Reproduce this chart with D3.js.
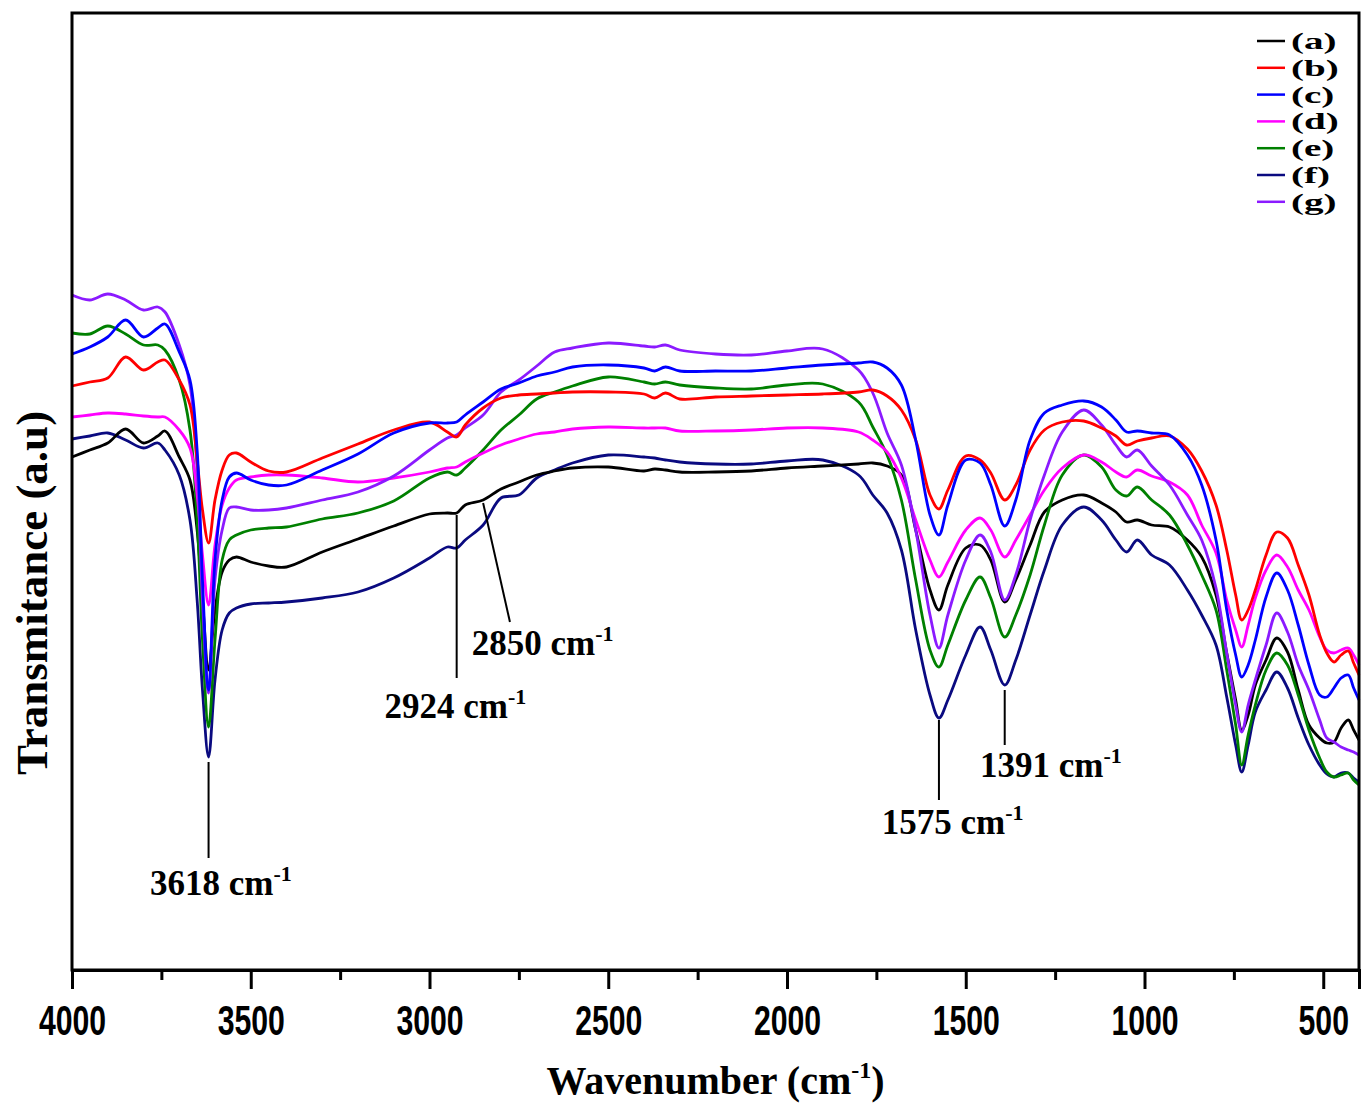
<!DOCTYPE html>
<html>
<head>
<meta charset="utf-8">
<script src="https://cdn.jsdelivr.net/npm/d3@7"></script>
<style>
  body { margin: 0; background: #fff; }
</style>
</head>
<body>
<div id="chart"></div>
<script>
// FTIR spectra, values (arbitrary transmittance units)
const wavenumbers = [4000, 3950, 3900, 3850, 3800, 3760, 3740, 3700, 3670, 3650,
  3635, 3618, 3600, 3580, 3560, 3540, 3500, 3450, 3400, 3300,
  3200, 3100, 3000, 2950, 2924, 2900, 2850, 2800, 2750, 2700,
  2650, 2600, 2500, 2400, 2370, 2340, 2300, 2200, 2100, 2000,
  1900, 1800, 1760, 1720, 1680, 1640, 1600, 1575, 1550, 1500,
  1460, 1430, 1391, 1360, 1320, 1280, 1230, 1170, 1120, 1080,
  1050, 1020, 980, 930, 880, 840, 800, 770, 745, 728,
  710, 690, 660, 630, 600, 570, 540, 510, 490, 470,
  450, 430, 415, 400];

const seriesA = [51.3, 52.0, 52.7, 54.1, 52.7, 53.4, 53.9, 51.3, 49.0, 44.0,
  37.0, 30.0, 36.0, 39.8, 41.0, 41.3, 40.8, 40.4, 40.3, 41.8,
  43.1, 44.4, 45.6, 45.7, 45.7, 46.5, 47.0, 48.1, 48.8, 49.5,
  49.9, 50.2, 50.3, 49.9, 50.1, 50.0, 49.8, 49.8, 49.9, 50.2,
  50.4, 50.6, 50.7, 50.4, 49.5, 44.0, 38.0, 36.0, 38.5, 42.2,
  42.5, 41.0, 36.8, 39.0, 42.5, 45.8, 47.0, 47.5, 46.7, 45.8,
  44.8, 45.0, 44.5, 44.3, 43.0, 41.3, 37.5, 31.7, 27.0, 24.0,
  25.5, 28.5, 31.0, 33.2, 31.8, 28.0, 24.5, 23.2, 22.7, 22.8,
  24.2, 25.0, 24.0, 23.0];

const seriesB = [58.4, 58.8, 59.2, 61.3, 60.0, 60.8, 61.0, 59.0, 56.5, 51.0,
  46.0, 42.7, 47.0, 50.0, 51.5, 51.7, 50.8, 49.9, 49.8, 51.2,
  52.6, 54.0, 54.8, 53.8, 53.3, 54.5, 56.2, 57.2, 57.5, 57.6,
  57.7, 57.8, 57.8, 57.6, 57.2, 57.7, 57.1, 57.3, 57.4, 57.5,
  57.6, 57.8, 58.0, 57.4, 56.0, 53.0, 47.5, 46.1, 48.0, 51.4,
  51.0, 49.7, 47.0, 48.5, 52.0, 54.0, 54.8, 54.9, 54.2, 53.4,
  52.5, 52.9, 53.2, 53.4, 52.1, 49.9, 46.5, 42.0, 37.5, 35.0,
  36.0, 38.0, 41.5, 43.8, 43.2, 40.5, 37.5, 33.5, 31.7, 30.8,
  31.5, 31.9, 30.7, 29.5];

const seriesC = [61.6, 62.3, 63.3, 65.0, 63.3, 64.2, 64.6, 61.8, 59.0, 52.0,
  39.0, 28.0, 41.0, 47.0, 49.3, 49.7, 49.0, 48.5, 48.5, 50.0,
  51.6, 53.7, 54.7, 54.7, 54.8, 55.5, 56.8, 58.1, 58.7, 59.4,
  59.8, 60.3, 60.5, 60.2, 59.9, 60.3, 59.9, 59.9, 59.9, 60.2,
  60.5, 60.7, 60.8, 60.2, 58.5, 53.0, 45.5, 43.5, 46.5, 51.0,
  50.7, 48.5, 44.4, 47.0, 53.0, 55.7, 56.5, 56.9, 56.3, 55.0,
  53.8, 53.9, 53.7, 53.5, 51.5, 48.5, 43.0, 36.0, 31.5, 29.3,
  30.5, 33.0, 37.3, 39.7, 38.0, 34.5, 30.5, 27.5, 27.3, 28.2,
  29.2, 29.5, 28.2, 27.0];

const seriesD = [55.3, 55.5, 55.7, 55.6, 55.4, 55.3, 55.3, 54.0, 52.2, 47.5,
  41.5, 36.5, 42.5, 46.5, 48.2, 49.0, 49.3, 49.5, 49.5, 49.2,
  48.8, 49.2, 49.8, 50.2, 50.3, 50.8, 51.7, 52.5, 53.1, 53.6,
  53.8, 54.1, 54.3, 54.2, 54.2, 54.2, 53.9, 53.9, 54.0, 54.2,
  54.2, 53.8, 53.0, 51.8, 49.2, 45.0, 41.0, 39.3, 40.8, 44.0,
  45.2, 44.0, 41.3, 43.0, 45.5, 48.0, 50.2, 51.5, 50.8, 49.8,
  49.3, 50.0, 49.4, 48.8, 47.5, 44.5, 41.7, 37.0, 34.0, 32.3,
  34.5, 37.2, 40.0, 41.5, 40.3, 38.0, 36.0, 33.3, 32.0, 31.7,
  32.0, 32.2, 31.5, 30.5];

const seriesE = [63.7, 63.6, 64.4, 63.6, 62.5, 62.5, 62.0, 59.0, 54.0, 45.0,
  33.0, 24.3, 33.0, 41.0, 43.0, 43.5, 44.0, 44.2, 44.3, 45.1,
  45.7, 46.9, 49.2, 49.8, 49.5, 50.2, 52.0, 54.0, 55.5, 57.1,
  57.8, 58.4, 59.3, 58.8, 58.6, 58.8, 58.5, 58.2, 58.1, 58.5,
  58.6, 56.8, 54.3, 51.5, 47.0, 39.0, 32.0, 30.3, 32.5, 37.0,
  39.3, 37.2, 33.3, 35.5, 39.5, 44.5, 49.5, 51.5, 50.3, 48.0,
  47.4, 48.3, 47.0, 45.5, 42.5, 39.5, 36.0, 30.0, 24.5, 20.5,
  23.5, 26.5, 30.0, 31.7, 30.5, 27.5, 24.0, 21.2, 19.8, 19.3,
  19.5, 19.7, 19.0, 18.5];

const seriesF = [53.1, 53.4, 53.7, 53.0, 52.2, 52.7, 52.0, 49.5, 45.0, 37.0,
  28.0, 21.3, 29.0, 34.0, 35.7, 36.2, 36.6, 36.7, 36.8, 37.2,
  37.8, 39.2, 41.2, 42.3, 42.2, 43.0, 44.5, 47.2, 47.5, 49.2,
  50.0, 50.7, 51.5, 51.3, 51.2, 51.0, 50.8, 50.6, 50.6, 50.9,
  51.0, 49.5, 47.5, 45.7, 42.0, 34.0, 27.5, 25.2, 27.0, 31.5,
  34.3, 32.0, 28.5, 31.0, 35.5, 40.0, 44.5, 46.3, 45.0, 43.0,
  41.8, 43.0, 41.5, 40.5, 38.0, 35.5, 32.5, 27.3, 22.5, 19.8,
  22.5, 25.8, 28.0, 29.8, 28.2, 25.2, 22.5, 20.5, 19.6, 19.3,
  19.7, 19.7, 19.2, 18.8];

const seriesG = [67.5, 67.0, 67.6, 67.0, 66.0, 66.3, 65.8, 62.5, 58.5, 50.0,
  37.0, 27.7, 39.0, 44.0, 46.2, 46.3, 46.0, 46.0, 46.2, 47.0,
  47.8, 49.4, 52.0, 53.2, 53.5, 54.2, 55.5, 57.8, 59.0, 60.4,
  61.8, 62.2, 62.7, 62.4, 62.3, 62.5, 62.0, 61.6, 61.5, 61.9,
  62.1, 60.0, 57.7, 53.7, 50.5, 44.0, 35.5, 32.2, 35.5, 41.0,
  43.5, 41.8, 37.0, 39.5, 45.0, 49.5, 53.8, 56.0, 54.5, 52.5,
  51.3, 52.0, 50.4, 48.5, 45.5, 43.0, 38.2, 31.7, 26.5, 23.8,
  26.5, 29.0, 32.5, 35.7, 33.8, 30.5, 28.0, 25.0, 23.2, 22.8,
  22.3, 22.0, 21.8, 21.5];

const seriesNames = ["(a)", "(b)", "(c)", "(d)", "(e)", "(f)", "(g)"];
const seriesColors = ["#000000", "#ff0000", "#0000ff", "#ff00ff", "#008000", "#0a0a80", "#8b1aff"];
const xTicks = [4000, 3500, 3000, 2500, 2000, 1500, 1000, 500];
const xMinorTicks = [3750, 3250, 2750, 2250, 1750, 1250, 750];

// marked bands: wavenumber, label
const peakWn = [3618, 2924, 2850, 1575, 1391];
const peakLabel = ["3618", "2924", "2850", "1575", "1391"];

const W = 1362, H = 1104;
const margin = { top: 13, right: 3, bottom: 134, left: 72 };
const width = W - margin.left - margin.right,
  height = H - margin.top - margin.bottom;

const svg = d3.select("#chart")
  .append("svg")
  .attr("width", W)
  .attr("height", H)
  .style("font-family", "'Liberation Serif', 'Times New Roman', serif");

const g = svg.append("g")
  .attr("transform", `translate(${margin.left},${margin.top})`);

const x = d3.scaleLinear().domain([4000, 400]).range([0, width]);
const y = d3.scaleLinear().domain([0, 95.7]).range([height, 0]);

const allSeries = [seriesA, seriesB, seriesC, seriesD, seriesE, seriesF, seriesG];

const line = d3.line()
  .x((d, i) => x(wavenumbers[i]))
  .y(d => y(d))
  .curve(d3.curveCatmullRom.alpha(0.5));

// draw bottom curves first so the upper ones sit on top, as in the figure
const drawOrder = [5, 0, 4, 3, 6, 1, 2];
g.selectAll("path.spec")
  .data(drawOrder)
  .join("path")
  .attr("class", "spec")
  .attr("fill", "none")
  .attr("stroke", i => seriesColors[i])
  .attr("stroke-width", 2.8)
  .attr("stroke-linejoin", "round")
  .attr("d", i => line(allSeries[i]));

// peak markers
const ann = [
  { top: 20.8, bot: 11.2, x2: 3618, lx: 3782, ly: 7.5 },
  { top: 45.5, bot: 29.2, x2: 2924, lx: 3126, ly: 25.2 },
  { top: 46.7, bot: 34.8, x2: 2775, lx: 2882, ly: 31.5 },
  { top: 25.0, bot: 17.0, x2: 1575, lx: 1735, ly: 13.6 },
  { top: 28.0, bot: 22.5, x2: 1391, lx: 1460, ly: 19.3 }
];
ann.forEach((a, i) => {
  g.append("line")
    .attr("x1", x(peakWn[i]))
    .attr("y1", y(a.top))
    .attr("x2", x(a.x2))
    .attr("y2", y(a.bot))
    .attr("stroke", "#000")
    .attr("stroke-width", 2);
  const t = g.append("text")
    .attr("x", x(a.lx))
    .attr("y", y(a.ly))
    .attr("font-size", 35)
    .attr("font-weight", "bold");
  t.append("tspan").text(peakLabel[i] + " cm");
  t.append("tspan").attr("dy", -14).attr("font-size", 22).text("-1");
});

// x axis
const xAxis = g.append("g")
  .attr("transform", `translate(0,${height})`)
  .call(d3.axisBottom(x).tickValues(xTicks).tickSize(19).tickFormat(d3.format("d")));
xAxis.select(".domain").attr("stroke-width", 3);
xAxis.selectAll(".tick line").attr("stroke-width", 3);
xAxis.selectAll(".tick text")
  .attr("y", 0)
  .attr("dy", null)
  .attr("font-family", "'Liberation Sans', Arial, sans-serif")
  .attr("font-weight", "bold")
  .attr("font-size", 42)
  .attr("fill", "#000")
  .attr("transform", "translate(0,65) scale(0.72,1)");

g.append("g")
  .attr("transform", `translate(0,${height})`)
  .call(d3.axisBottom(x).tickValues(xMinorTicks).tickSize(10).tickFormat(""))
  .call(s => s.select(".domain").remove())
  .selectAll(".tick line").attr("stroke-width", 3);

// frame
g.append("rect")
  .attr("width", width)
  .attr("height", height)
  .attr("fill", "none")
  .attr("stroke", "#000")
  .attr("stroke-width", 3);

// axis titles
const xt = svg.append("text")
  .attr("x", margin.left + width / 2)
  .attr("y", 1094)
  .attr("text-anchor", "middle")
  .attr("font-size", 40)
  .attr("font-weight", "bold");
xt.append("tspan").text("Wavenumber (cm");
xt.append("tspan").attr("dy", -16).attr("font-size", 24).text("-1");
xt.append("tspan").attr("dy", 16).text(")");

svg.append("text")
  .attr("transform", `translate(47,${margin.top + height * 0.606}) rotate(-90)`)
  .attr("text-anchor", "middle")
  .attr("font-size", 45)
  .attr("font-weight", "bold")
  .text("Transmitance (a.u)");

// legend
const legend = svg.append("g").attr("transform", "translate(1257,41)");
const rows = legend.selectAll("g")
  .data(seriesNames)
  .join("g")
  .attr("transform", (d, i) => `translate(0,${i * 26.8})`);
rows.append("line")
  .attr("x1", 0).attr("x2", 28)
  .attr("stroke", (d, i) => seriesColors[i])
  .attr("stroke-width", 2.5);
rows.append("text")
  .attr("transform", "translate(34,8) scale(1.7,1)")
  .attr("font-size", 23)
  .attr("font-weight", "bold")
  .text(d => d);
</script>
</body>
</html>
